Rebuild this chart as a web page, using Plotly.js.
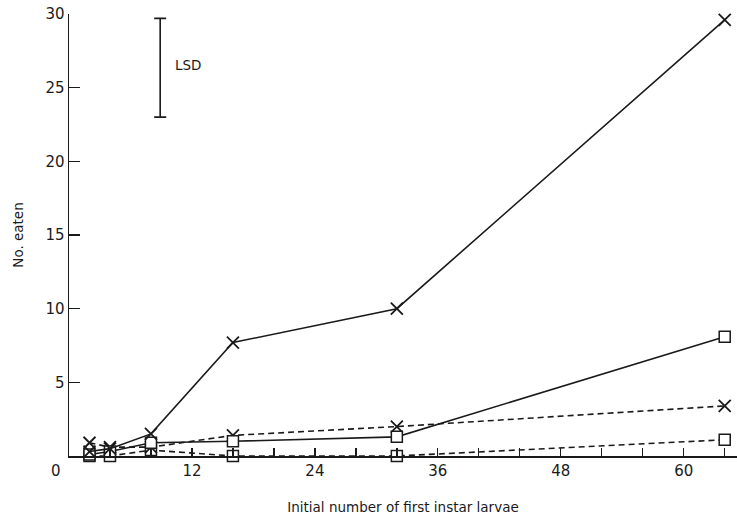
<!DOCTYPE html>
<html>
<head>
<meta charset="utf-8">
<script src="https://cdn.plot.ly/plotly-3.0.1.min.js"></script>
<style>html,body{margin:0;padding:0;background:#fff;}#chart{width:737px;height:519px;}</style>
</head>
<body>
<div id="chart"></div>
<script>
const larvae = [2, 4, 8, 16, 32, 64];
const solidX = [0.3, 0.5, 1.5, 7.7, 10.0, 29.6];
const solidSquare = [0.1, 0.3, 0.9, 1.0, 1.3, 8.1];
const dashedX = [0.9, 0.6, 0.6, 1.4, 2.0, 3.4];
const dashedSquare = [0.0, 0.0, 0.4, 0.0, 0.0, 1.1];
const lsdX = [8.9];
const lsdCenter = [26.35];
const lsdHalf = [3.35];
const xTickVals = [0, 4, 8, 12, 16, 20, 24, 28, 32, 36, 40, 44, 48, 52, 56, 60, 64];
const xLabelled = [12, 24, 36, 48, 60];
const yTickVals = [0, 5, 10, 15, 20, 25, 30];

const ink = '#1a1a1a';
function series(y, symbol, dash) {
  const isX = symbol.indexOf('x') === 0;
  return {
    x: larvae, y: y, type: 'scatter', mode: 'lines+markers',
    line: {color: ink, width: 1.6, dash: dash},
    marker: {symbol: symbol, size: isX ? 12 : 11, color: isX ? ink : 'white', line: {color: ink, width: isX ? 1.8 : 1.5}},
    cliponaxis: false, showlegend: false, hoverinfo: 'skip'
  };
}
const traces = [
  series(dashedSquare, 'square', '6px,4px'),
  series(dashedX, 'x-thin-open', '6px,4px'),
  series(solidSquare, 'square', 'solid'),
  series(solidX, 'x-thin-open', 'solid'),
  {
    x: lsdX, y: lsdCenter, type: 'scatter', mode: 'markers',
    marker: {size: 1, color: 'rgba(0,0,0,0)'},
    error_y: {type: 'data', array: lsdHalf, visible: true, color: ink, thickness: 1.6, width: 6},
    showlegend: false, hoverinfo: 'skip'
  }
];
const font = {family: 'DejaVu Sans, Liberation Sans, sans-serif', color: ink};
const layout = {
  width: 737, height: 519,
  margin: {l: 69, r: 0, t: 14, b: 63},
  paper_bgcolor: 'white', plot_bgcolor: 'white',
  font: font,
  showlegend: false,
  xaxis: {
    range: [0, 65.2], showgrid: false, zeroline: false,
    showline: true, linecolor: ink, linewidth: 1.5,
    ticks: 'inside', ticklen: 8, tickwidth: 1.3, tickcolor: ink,
    tickmode: 'array', tickvals: xTickVals,
    ticktext: xTickVals.map(v => xLabelled.includes(v) ? String(v) : ''),
    tickfont: {size: 15, family: font.family, color: ink},
    title: {text: 'Initial number of first instar larvae', font: {size: 13.5, family: font.family, color: ink}, standoff: 24}
  },
  yaxis: {
    range: [0, 30], showgrid: false, zeroline: false,
    showline: true, linecolor: ink, linewidth: 1.5,
    ticks: 'inside', ticklen: 11, tickwidth: 1.3, tickcolor: ink,
    tickmode: 'array', tickvals: yTickVals,
    ticktext: yTickVals.map(v => v === 0 ? '' : String(v)),
    tickfont: {size: 15, family: font.family, color: ink},
    title: {text: 'No. eaten', font: {size: 13.5, family: font.family, color: ink}, standoff: 18}
  },
  annotations: [
    {x: 0, y: 0, xref: 'x', yref: 'y', text: '0', showarrow: false,
     xanchor: 'right', yanchor: 'top', xshift: -6, yshift: -4,
     font: {size: 15, family: font.family, color: ink}},
    {x: lsdX[0], y: lsdCenter[0], xref: 'x', yref: 'y', text: 'LSD', showarrow: false,
     xanchor: 'left', yanchor: 'middle', xshift: 13, yshift: 3,
     font: {size: 13.5, family: font.family, color: ink}}
  ]
};
Plotly.newPlot('chart', traces, layout, {displayModeBar: false, staticPlot: true});
</script>
</body>
</html>
